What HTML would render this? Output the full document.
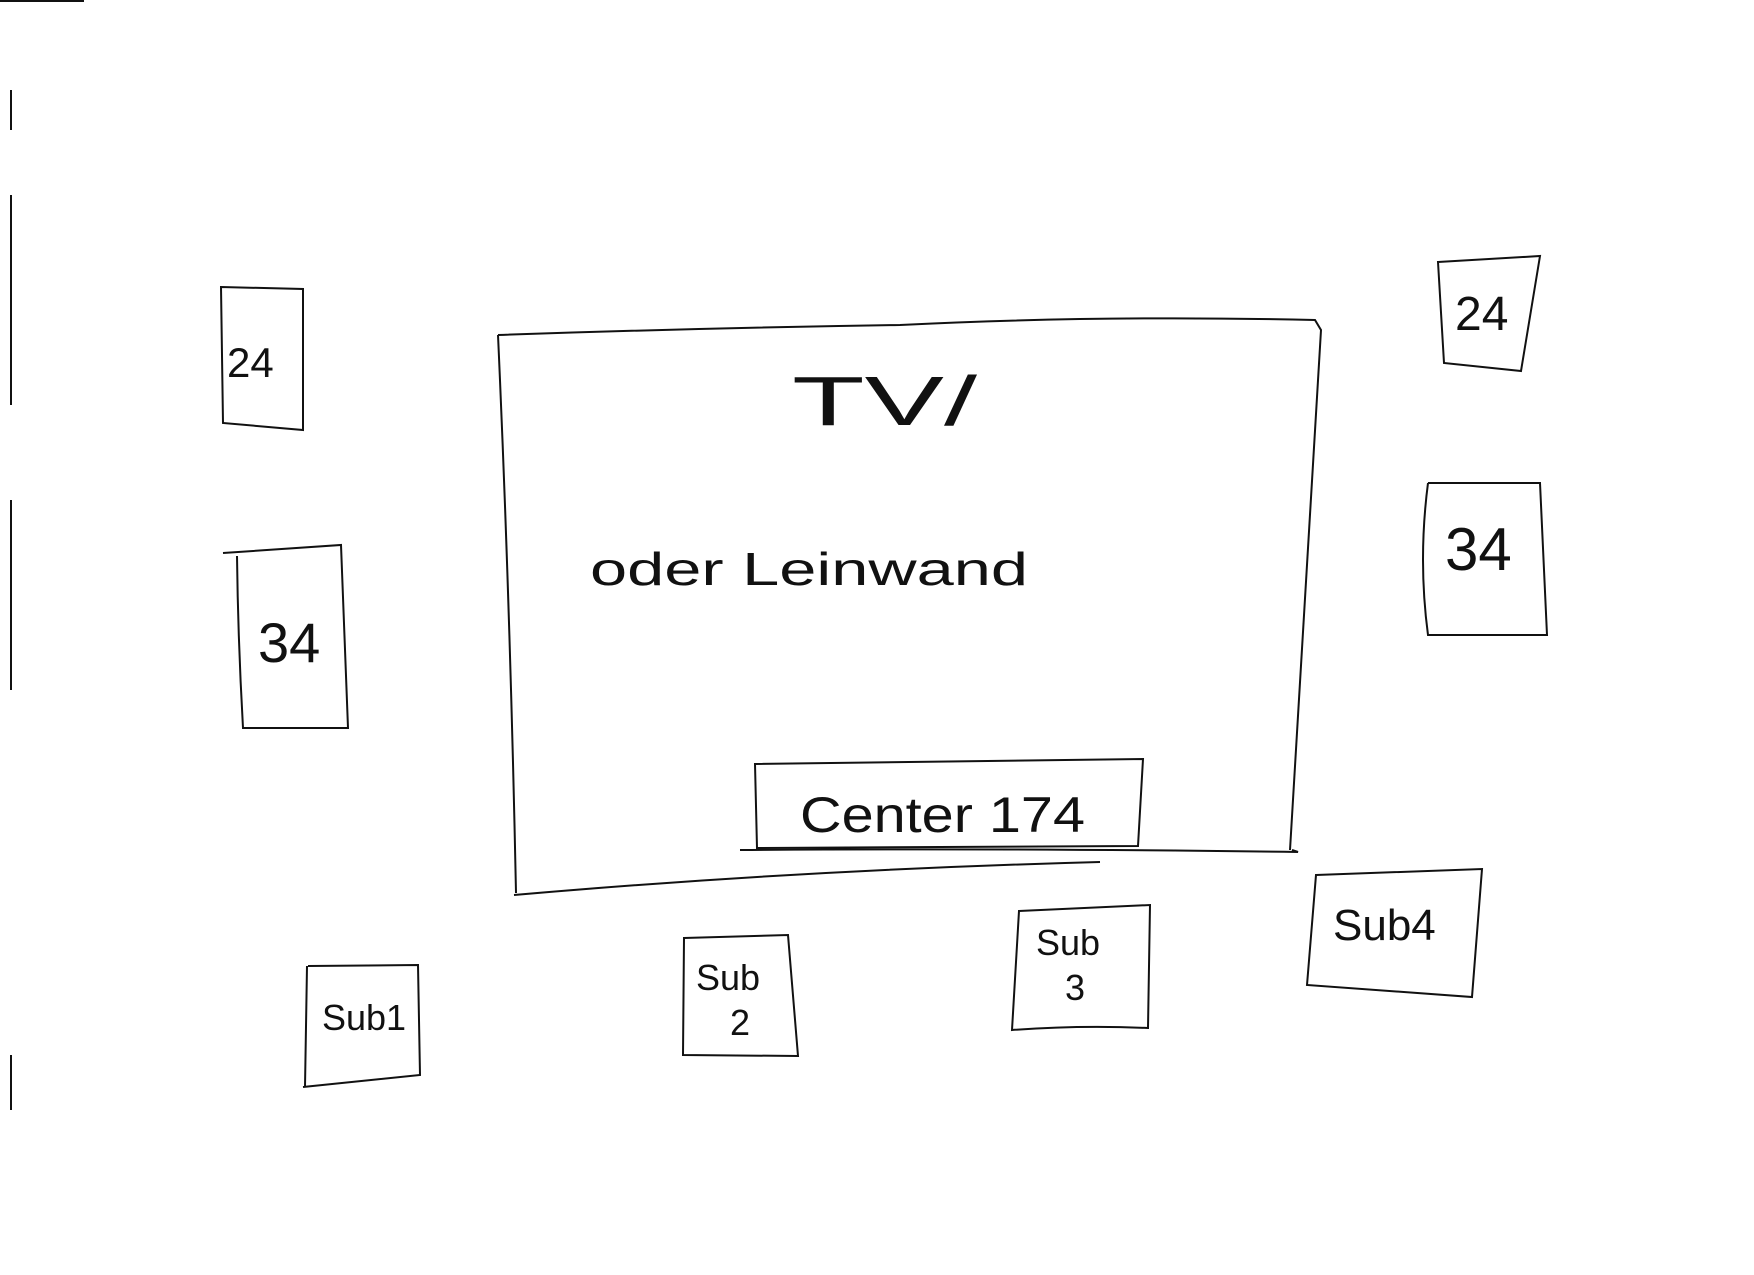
<!DOCTYPE html>
<html><head><style>
html,body{margin:0;padding:0;background:#fff;}
svg{display:block}
text{font-family:"Liberation Sans",sans-serif;fill:#111;}
</style></head><body>
<svg width="1754" height="1275" viewBox="0 0 1754 1275" xmlns="http://www.w3.org/2000/svg">
<g stroke="#111" stroke-width="2" fill="none">
<line x1="0" y1="1" x2="84" y2="1"/>
<line x1="11" y1="90" x2="11" y2="130"/>
<line x1="11" y1="195" x2="11" y2="405"/>
<line x1="11" y1="500" x2="11" y2="690"/>
<line x1="11" y1="1055" x2="11" y2="1110"/>
<path d="M498 335 Q700 328 900 325 Q1100 315 1315 320 L1321 330 Q1305 600 1290 850 M1292 850 L1298 852 Q1000 848 740 850 M514 895 Q800 870 1100 862 M498 335 Q510 600 516 893"/>
<path d="M221 287 L303 289 L303 430 L223 423 Z"/>
<path d="M223 553 L341 545 L348 728 L243 728 Q238 640 237 556"/>
<path d="M1438 262 L1540 256 L1521 371 L1444 363 Z"/>
<path d="M1428 483 L1540 483 L1547 635 L1428 635 Q1418 560 1428 483"/>
<path d="M755 764 L1143 759 L1138 846 L757 848 Z"/>
<path d="M308 966 L418 965 L420 1075 L303 1087 M307 966 L305 1087"/>
<path d="M684 938 L788 935 L798 1056 L683 1055 Z"/>
<path d="M1019 911 L1150 905 L1148 1028 Q1080 1025 1012 1030 Z"/>
<path d="M1316 875 L1482 869 L1472 997 L1307 985 Z"/>
</g>
<text x="792" y="425" font-size="70" textLength="185" lengthAdjust="spacingAndGlyphs">TV/</text>
<text x="590" y="585" font-size="46" textLength="438" lengthAdjust="spacingAndGlyphs">oder Leinwand</text>
<text x="800" y="832" font-size="50" textLength="285" lengthAdjust="spacingAndGlyphs">Center 174</text>
<text x="227" y="377" font-size="42">24</text>
<text x="258" y="662" font-size="56">34</text>
<text x="1455" y="330" font-size="48">24</text>
<text x="1445" y="570" font-size="60">34</text>
<text x="322" y="1030" font-size="36">Sub1</text>
<text x="696" y="990" font-size="36">Sub</text>
<text x="730" y="1035" font-size="36">2</text>
<text x="1036" y="955" font-size="36">Sub</text>
<text x="1065" y="1000" font-size="36">3</text>
<text x="1333" y="940" font-size="44">Sub4</text>
</svg>
</body></html>
